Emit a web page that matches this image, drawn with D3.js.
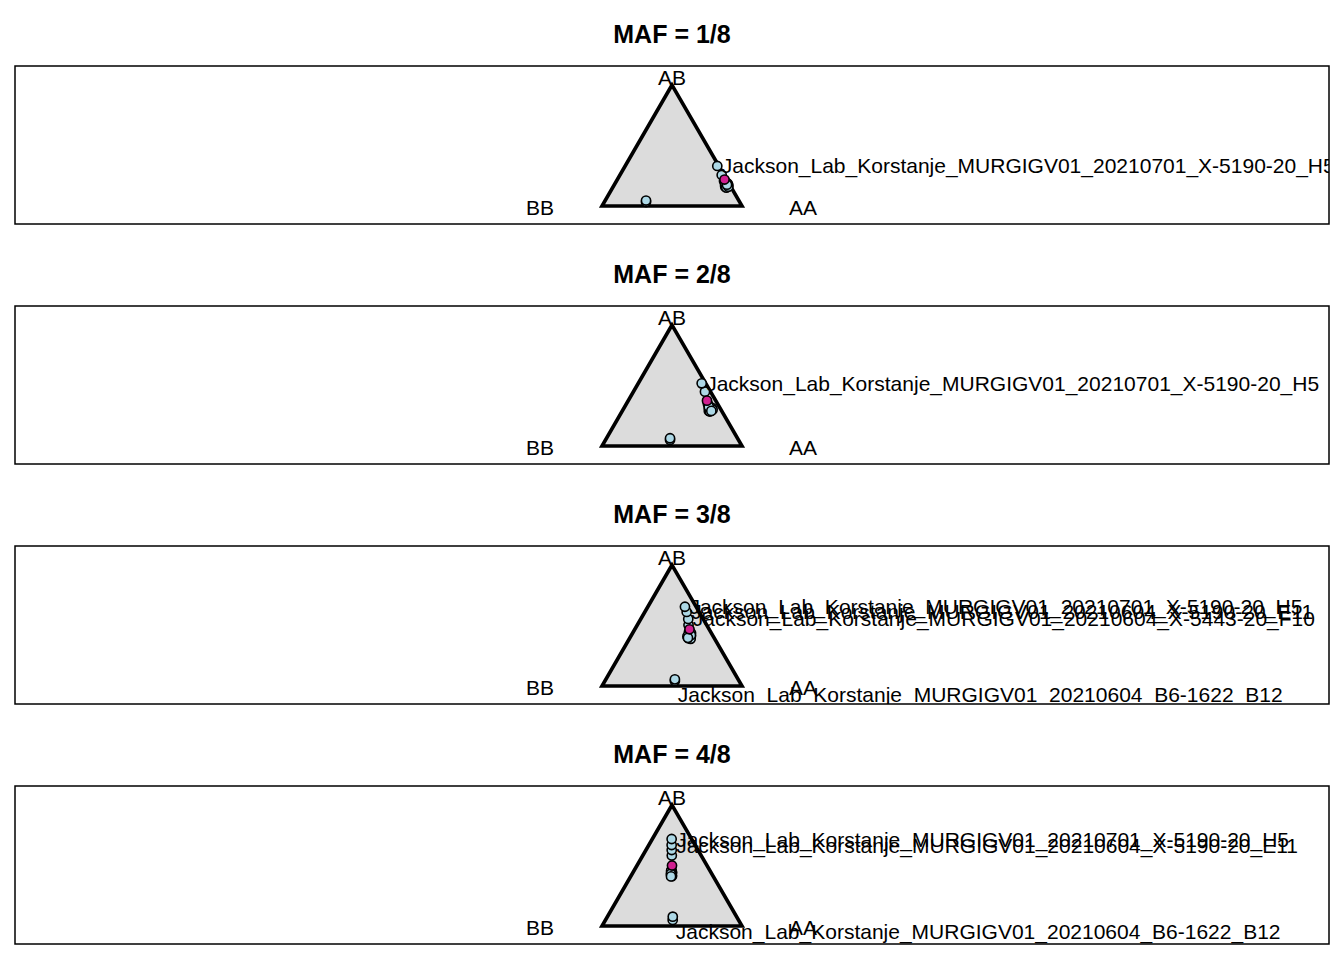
<!DOCTYPE html>
<html>
<head>
<meta charset="utf-8">
<script src="https://cdn.jsdelivr.net/npm/d3@7"></script>
<style>
  html, body { margin: 0; padding: 0; background: #ffffff; }
  svg { display: block; }
  text { font-family: "Liberation Sans", Arial, sans-serif; }
</style>
</head>
<body>
<div id="chart"></div>
<script>
// ---------------- DATA ----------------
const panelTitles = ["MAF = 1/8", "MAF = 2/8", "MAF = 3/8", "MAF = 4/8"];
const mafValues = [1/8, 2/8, 3/8, 4/8];
const vertexLabels = ["AB", "BB", "AA"];

// genotype frequencies per sample: [AA, AB, BB]
const samplesMAF1 = [
  [0.768, 0.207, 0.025], [0.784, 0.190, 0.026], [0.795, 0.182, 0.023], [0.810, 0.165, 0.025],
  [0.803, 0.165, 0.032], [0.809, 0.182, 0.009], [0.792, 0.174, 0.034], [0.798, 0.190, 0.012],
  [0.815, 0.158, 0.027], [0.806, 0.170, 0.024], [0.800, 0.160, 0.040], [0.818, 0.168, 0.014],
  [0.789, 0.185, 0.026], [0.812, 0.152, 0.036], [0.822, 0.160, 0.018], [0.805, 0.176, 0.019],
  [0.727, 0.256, 0.017], [0.658, 0.331, 0.011],
  [0.298, 0.033, 0.669], [0.292, 0.045, 0.663]
];
const samplesMAF2 = [
  [0.583, 0.347, 0.070], [0.599, 0.331, 0.070], [0.610, 0.322, 0.068], [0.626, 0.306, 0.068],
  [0.622, 0.298, 0.080], [0.629, 0.314, 0.057], [0.607, 0.314, 0.079], [0.633, 0.295, 0.072],
  [0.618, 0.290, 0.092], [0.640, 0.300, 0.060], [0.612, 0.306, 0.082], [0.628, 0.285, 0.087],
  [0.600, 0.325, 0.075], [0.636, 0.290, 0.074],
  [0.511, 0.449, 0.040], [0.453, 0.518, 0.029],
  [0.461, 0.050, 0.489], [0.454, 0.064, 0.482]
];
const samplesMAF3 = [
  [0.398, 0.446, 0.156], [0.414, 0.430, 0.156], [0.429, 0.413, 0.158], [0.427, 0.405, 0.168],
  [0.410, 0.421, 0.169], [0.417, 0.438, 0.145], [0.433, 0.400, 0.167], [0.420, 0.395, 0.185],
  [0.438, 0.390, 0.172], [0.405, 0.410, 0.185], [0.425, 0.420, 0.155], [0.415, 0.398, 0.187],
  [0.366, 0.504, 0.130], [0.339, 0.554, 0.107], [0.299, 0.612, 0.089], [0.265, 0.655, 0.080],
  [0.500, 0.041, 0.459], [0.493, 0.055, 0.452]
];
const samplesMAF4 = [
  [0.265, 0.463, 0.272], [0.277, 0.446, 0.277], [0.281, 0.430, 0.289], [0.281, 0.438, 0.281],
  [0.266, 0.455, 0.279], [0.285, 0.425, 0.290], [0.290, 0.418, 0.292], [0.283, 0.422, 0.295],
  [0.294, 0.412, 0.294], [0.276, 0.432, 0.292], [0.288, 0.410, 0.302],
  [0.207, 0.583, 0.210], [0.184, 0.628, 0.188], [0.163, 0.669, 0.168], [0.138, 0.719, 0.143],
  [0.480, 0.050, 0.470], [0.467, 0.077, 0.456]
];
const panelSamples = [samplesMAF1, samplesMAF2, samplesMAF3, samplesMAF4];

// labelled outliers: [sample index in panel, name, placement]
const labelsMAF1 = [[17, "Jackson_Lab_Korstanje_MURGIGV01_20210701_X-5190-20_H5", "right"]];
const labelsMAF2 = [[15, "Jackson_Lab_Korstanje_MURGIGV01_20210701_X-5190-20_H5", "right"]];
const labelsMAF3 = [
  [15, "Jackson_Lab_Korstanje_MURGIGV01_20210701_X-5190-20_H5", "right"],
  [14, "Jackson_Lab_Korstanje_MURGIGV01_20210604_X-5190-20_E11", "right"],
  [13, "Jackson_Lab_Korstanje_MURGIGV01_20210604_X-5443-20_F10", "right"],
  [17, "Jackson_Lab_Korstanje_MURGIGV01_20210604_B6-1622_B12", "below"]
];
const labelsMAF4 = [
  [14, "Jackson_Lab_Korstanje_MURGIGV01_20210701_X-5190-20_H5", "right"],
  [13, "Jackson_Lab_Korstanje_MURGIGV01_20210604_X-5190-20_E11", "right"],
  [16, "Jackson_Lab_Korstanje_MURGIGV01_20210604_B6-1622_B12", "below"]
];
const panelLabels = [labelsMAF1, labelsMAF2, labelsMAF3, labelsMAF4];

// ---------------- LAYOUT ----------------
const W = 1344, H = 960;
const svg = d3.select("#chart").append("svg").attr("width", W).attr("height", H);
const S3 = Math.sqrt(3) / 2;
const panelStep = 240;

function toXY(f) { // f = [AA, AB, BB]; BB=(0,0), AA=(1,0), AB=(0.5, s3)
  return [f[0] + 0.5 * f[1], S3 * f[1]];
}

const x = d3.scaleLinear().domain([0, 1]).range([602, 742]);

panelTitles.forEach((title, i) => {
  const off = i * panelStep;
  const y = d3.scaleLinear().domain([0, S3]).range([206 + off, 85 + off]);
  const g = svg.append("g");

  const clipId = "clip" + i;
  svg.append("clipPath").attr("id", clipId)
    .append("rect").attr("x", 15).attr("y", 66 + off).attr("width", 1314).attr("height", 158);

  g.append("text").attr("x", 672).attr("y", 43 + off)
    .attr("text-anchor", "middle").attr("font-size", 25).attr("font-weight", "bold")
    .text(title);

  g.append("rect").attr("x", 15).attr("y", 66 + off).attr("width", 1314).attr("height", 158)
    .attr("fill", "none").attr("stroke", "#000").attr("stroke-width", 1.5);

  const inner = g.append("g").attr("clip-path", `url(#${clipId})`);

  const verts = [[0.5, S3], [0, 0], [1, 0]];
  inner.append("path")
    .attr("d", d3.line().x(d => x(d[0])).y(d => y(d[1]))(verts) + "Z")
    .attr("fill", "#dcdcdc").attr("stroke", "#000").attr("stroke-width", 3.6)
    .attr("stroke-linejoin", "miter");

  const vlPos = [[0.5, S3, -8], [-0.443, 0, 1], [1.436, 0, 1]];
  vertexLabels.forEach((lab, k) => {
    inner.append("text")
      .attr("x", x(vlPos[k][0])).attr("y", y(vlPos[k][1]) + vlPos[k][2] + 7.5)
      .attr("text-anchor", "middle").attr("font-size", 21)
      .text(lab);
  });

  const pts = panelSamples[i];
  inner.selectAll("circle.s").data(pts).enter().append("circle")
    .attr("class", "s")
    .attr("cx", d => x(toXY(d)[0])).attr("cy", d => y(toXY(d)[1]))
    .attr("r", 4.6).attr("fill", "#add8e6").attr("stroke", "#000").attr("stroke-width", 1.6);

  const p = mafValues[i];
  const exp = [(1 - p) * (1 - p), 2 * p * (1 - p), p * p];
  inner.append("circle")
    .attr("cx", x(toXY(exp)[0])).attr("cy", y(toXY(exp)[1]))
    .attr("r", 4.6).attr("fill", "#d02090").attr("stroke", "#000").attr("stroke-width", 1.6);

  panelLabels[i].forEach(([idx, name, place]) => {
    const c = toXY(pts[idx]);
    const px = x(c[0]), py = y(c[1]);
    const dx = place === "right" ? 4.5 : 3;
    const dy = place === "right" ? 0 : 15;
    inner.append("text")
      .attr("x", px + dx).attr("y", py + dy + 7.5)
      .attr("font-size", 21)
      .text(name);
  });
});
</script>
</body>
</html>
